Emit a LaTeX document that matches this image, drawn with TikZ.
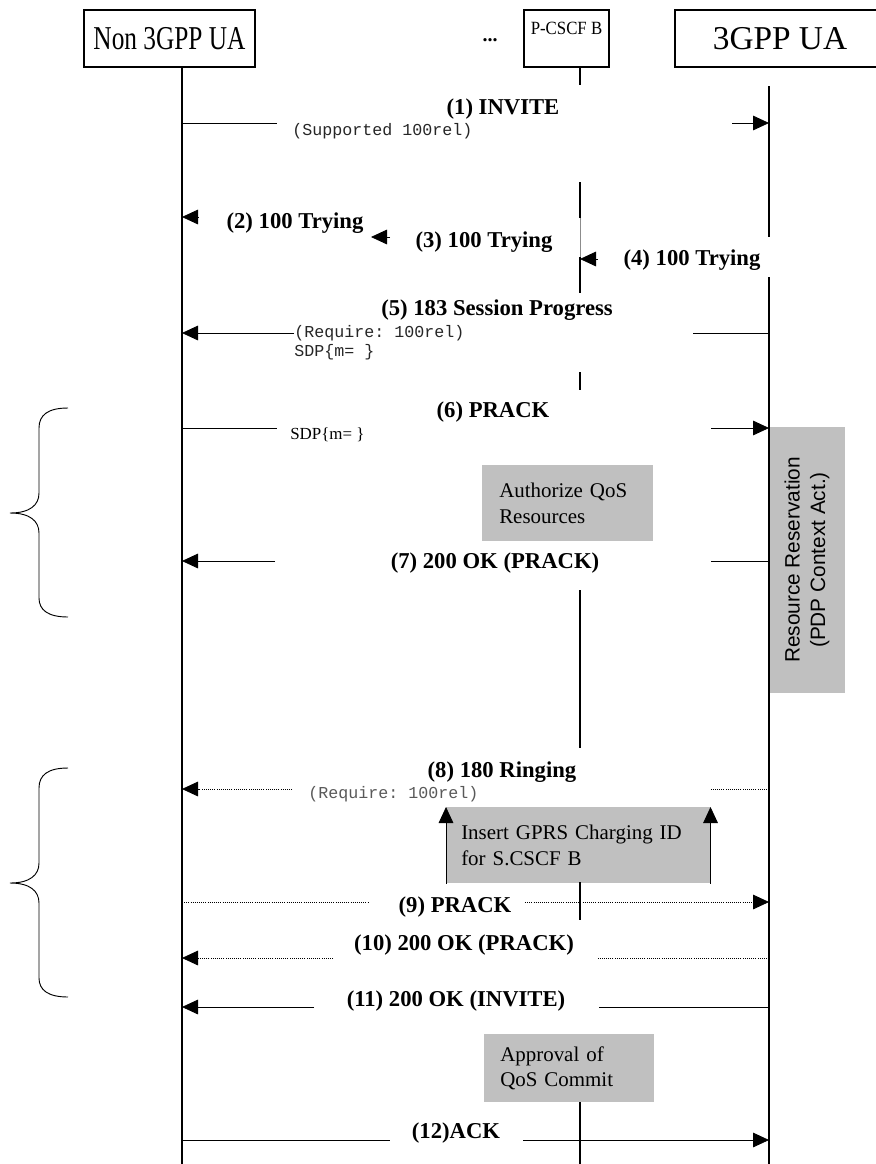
\documentclass[tikz,border=0pt]{standalone}
\usepackage{fontspec}
\setmainfont{Liberation Serif}
\setsansfont{Liberation Sans}
\setmonofont{Liberation Mono}
\usetikzlibrary{arrows.meta,positioning}
\definecolor{actgray}{HTML}{C0C0C0}

\begin{document}
\begin{tikzpicture}[x=0.75pt, y=-0.75pt,
  head/.style={draw, line width=0.8pt, minimum height=42.75pt,
    font=\fontsize{25}{30}\selectfont},
  life/.style={line width=0.8pt},
  msg/.style={line width=0.6pt},
  tip/.style={-{Triangle[length=12pt,width=11pt]}},
  lbl/.style={font=\fontsize{17}{20}\selectfont\bfseries},
  note/.style={anchor=west, inner sep=0pt, text=black!85,
    font=\fontsize{12.5}{15}\selectfont\ttfamily},
  act/.style={fill=actgray, anchor=north west, align=left, inner ysep=0pt,
    font=\fontsize{15.7}{19.3}\selectfont},
  brace/.style={line width=0.7pt}
]
  \useasboundingbox (0,0) rectangle (875,1164);

  % entities
  \node[head, minimum width=128.25pt] (nonua) at (169.5,38.5)
    {\scalebox{0.76}[1]{Non 3GPP UA}};
  \node[anchor=base, font=\fontsize{15}{18}\selectfont\bfseries] (dots) at (490,41) {...};
  \node[head, minimum width=63.75pt] (pcscf) at (566.5,38.5) {};
  \node[font=\fontsize{14}{16}\selectfont] (pcscfname) at (566.5,28)
    {\scalebox{0.9}[1]{P-CSCF B}};
  \node[head, minimum width=157.5pt] (gppua) at (780,38.5) {3GPP UA};

  % activity boxes
  \node[act, minimum width=128.25pt, minimum height=57pt, text width=102.75pt,
    inner xsep=12.75pt] (auth) at (482,465) {Authorize QoS\\Resources};
  \node[act, anchor=center, rotate=90, align=center, minimum width=199.5pt,
    minimum height=57pt, font=\fontsize{15.6}{19}\selectfont\sffamily] (resv)
    at (807,560) {Resource Reservation\\(PDP Context Act.)};
  \node[act, minimum width=198pt, minimum height=57pt, text width=175.5pt,
    inner xsep=11.25pt] (gprs) at (446,807) {Insert GPRS Charging ID\\for S.CSCF B};
  \node[act, minimum width=127.5pt, minimum height=51pt, text width=103.5pt,
    inner xsep=12pt] (appr) at (484,1034) {Approval of\\QoS Commit};

  % lifelines
  \coordinate (lA) at (182,67);
  \coordinate (lB) at (580,67);
  \coordinate (lC) at (769,86);
  \draw[life] (lA) -- (lA |- 0,1164);
  \draw[life] (lB) -- (lB |- 0,85);
  \draw[life] (lB |- 0,182) -- (lB |- 0,218);
  \draw[line width=0.4pt, black!45] (lB |- 0,218) -- (lB |- 0,257);
  \draw[life] (lB |- 0,257) -- (lB |- 0,293);
  \draw[life] (lB |- 0,372) -- (lB |- 0,390);
  \draw[life] (lB |- 0,590) -- (lB |- 0,748);
  \draw[life] (lB |- 0,882) -- (lB |- 0,920);
  \draw[life] (lB |- 0,1102) -- (lB |- 0,1164);
  \draw[life] (lC) -- (lC |- 0,237);
  \draw[life] (lC |- 0,277) -- (lC |- 0,1164);

  % (1)
  \draw[msg] (lA |- 0,123) -- (277,123);
  \draw[msg, tip] (732,123) -- (lC |- 0,123);
  \node[lbl] (m1) at (503,109) {(1) INVITE};
  \node[note] (m1n) at (292,131) {(Supported 100rel)};

  % (2)-(4)
  \draw[msg, tip] (198,217) -- (lA |- 0,217);
  \node[lbl] (m2) at (295,223) {(2) 100 Trying};
  \draw[msg, tip] (390,237) -- (371,237);
  \node[lbl] (m3) at (484,242) {(3) 100 Trying};
  \draw[msg, tip] (598,259) -- (lB |- 0,259);
  \node[lbl] (m4) at (692,260) {(4) 100 Trying};

  % (5)
  \draw[msg] (lC |- 0,333) -- (693,333);
  \draw[msg, tip] (294,333) -- (lA |- 0,333);
  \node[lbl] (m5) at (497,310) {(5) 183 Session Progress};
  \node[note] (m5n) at (294,333) {(Require: 100rel)};
  \node[note] (m5s) at (294,352) {SDP\{m= \}};

  % (6)
  \draw[msg] (lA |- 0,428) -- (277,428);
  \draw[msg, tip] (711,428) -- (lC |- 0,428);
  \node[lbl] (m6) at (493,412) {(6) PRACK};
  \node[anchor=west, inner sep=0pt, font=\fontsize{12.7}{15}\selectfont] (m6s)
    at (290,435) {SDP\{m= \}};

  % (7)
  \draw[msg] (lC |- 0,561) -- (711,561);
  \draw[msg, tip] (275,561) -- (lA |- 0,561);
  \node[lbl] (m7) at (495,563) {(7) 200 OK (PRACK)};

  % (8)
  \draw[msg, densely dotted] (lC |- 0,789) -- (711,789);
  \draw[msg, densely dotted, tip] (292,789) -- (lA |- 0,789);
  \node[lbl] (m8) at (502,772) {(8) 180 Ringing};
  \node[note, text=black!65] (m8n) at (308,794) {(Require: 100rel)};
  \draw[msg, tip] (gprs.south west) -- (gprs.north west);
  \draw[msg, tip] (gprs.south east) -- (gprs.north east);

  % (9)
  \draw[msg, densely dotted] (lA |- 0,902) -- (369,902);
  \draw[msg, densely dotted, tip] (525,902) -- (lC |- 0,902);
  \node[lbl] (m9) at (455,907) {(9) PRACK};

  % (10)
  \draw[msg, densely dotted] (lC |- 0,958) -- (597,958);
  \draw[msg, densely dotted, tip] (333,958) -- (lA |- 0,958);
  \node[lbl] (m10) at (464,945) {(10) 200 OK (PRACK)};

  % (11)
  \draw[msg] (lC |- 0,1007) -- (599,1007);
  \draw[msg, tip] (314,1007) -- (lA |- 0,1007);
  \node[lbl] (m11) at (456,1001) {(11) 200 OK (INVITE)};

  % (12)
  \draw[msg] (lA |- 0,1140) -- (390,1140);
  \draw[msg, tip] (523,1140) -- (lC |- 0,1140);
  \node[lbl] (m12) at (456,1133) {(12)ACK};

  % braces
  \draw[brace] (68,408) .. controls (48,408) and (39,415) .. (39,428) -- (39,493)
    .. controls (39,505) and (30,513) .. (10,513)
    .. controls (30,513) and (39,521) .. (39,533) -- (39,598)
    .. controls (39,610) and (48,617) .. (68,617);
  \draw[brace] (68,768) .. controls (48,768) and (39,775) .. (39,788) -- (39,863)
    .. controls (39,875) and (30,883) .. (10,883)
    .. controls (30,883) and (39,891) .. (39,903) -- (39,978)
    .. controls (39,990) and (48,997) .. (68,997);
\end{tikzpicture}
\end{document}
